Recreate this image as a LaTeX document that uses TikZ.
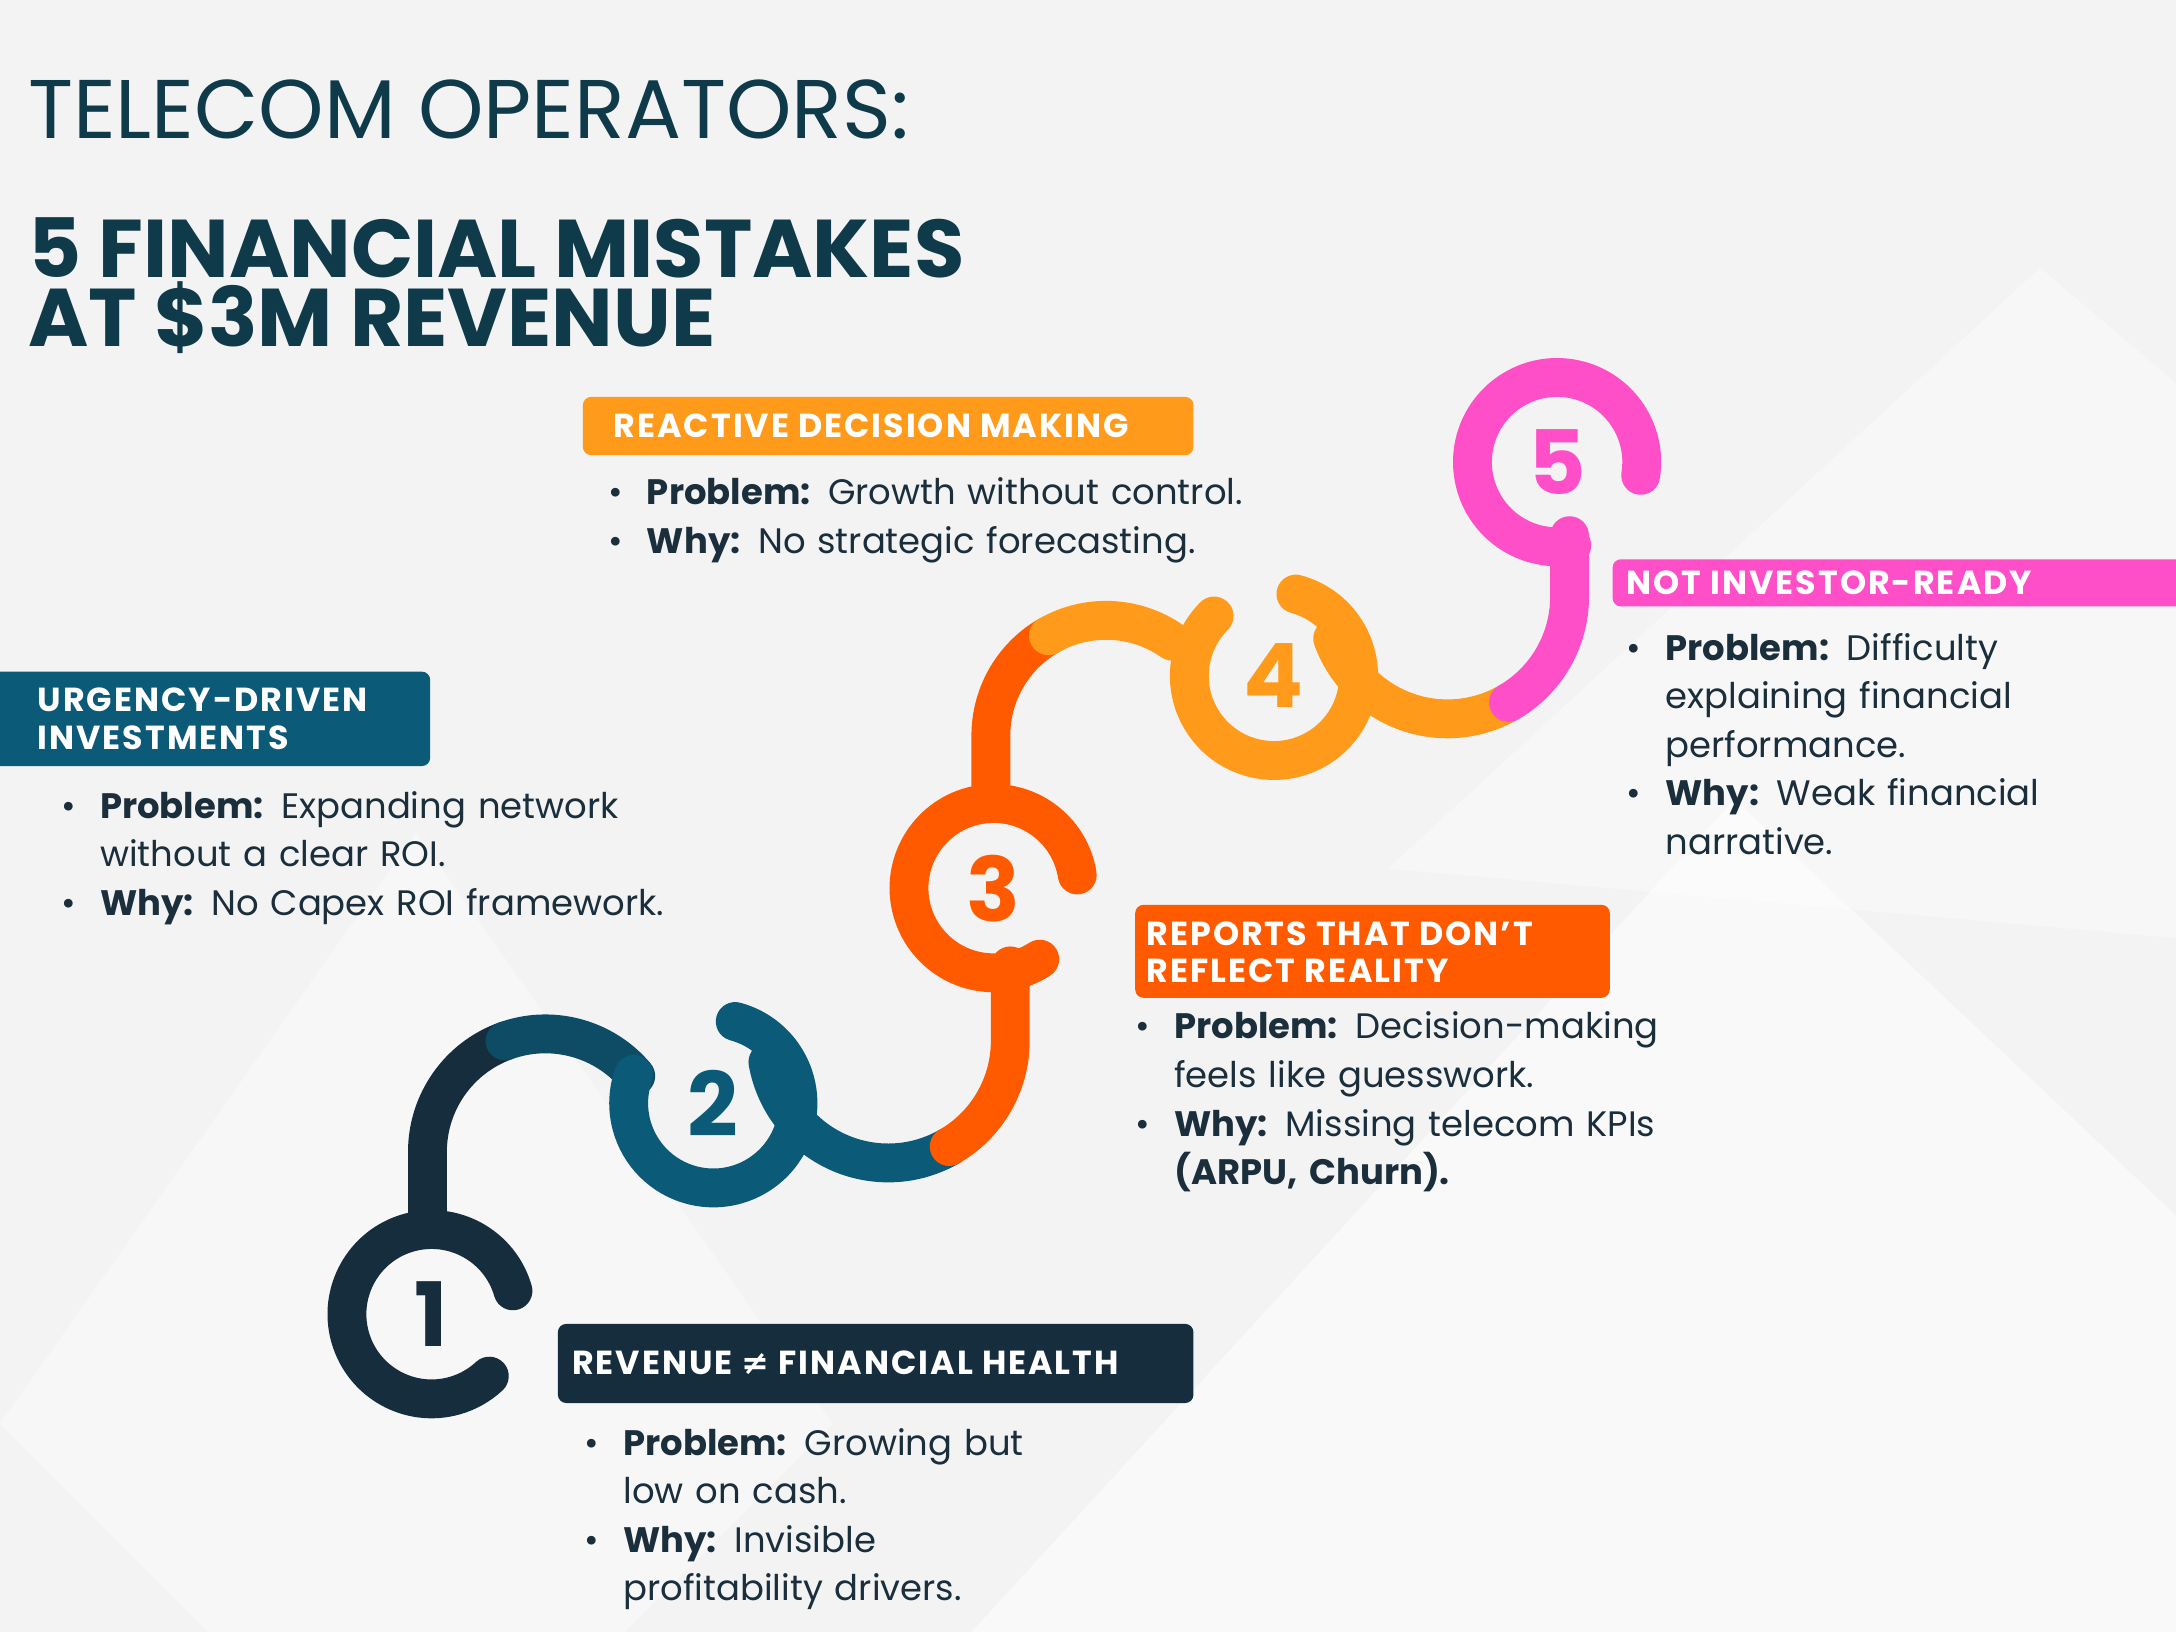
\documentclass[tikz,border=0pt]{standalone}
\usepackage{fontspec}
\setmainfont{Poppins}
\newfontfamily\symf{DejaVu Sans}
\definecolor{bg}{HTML}{F3F3F4}
\definecolor{navy}{HTML}{152D3C}
\definecolor{teal}{HTML}{0B5A78}
\definecolor{red}{HTML}{FF5A00}
\definecolor{orng}{HTML}{FF9A1A}
\definecolor{pink}{HTML}{FF4FC8}
\definecolor{txt}{HTML}{1A2E3B}
\definecolor{ttl}{HTML}{0E3A4A}
\tikzset{
  ring/.style={line width=28pt,line cap=round},
  lbl/.style={anchor=west,text=white,font=\fontsize{24}{27}\selectfont\bfseries\addfontfeatures{LetterSpace=6},align=left,inner sep=0pt},
  num/.style={font=\fontsize{64}{64}\selectfont\bfseries},
  body/.style={anchor=north west,text=txt,align=left,font=\fontsize{25.5}{35}\selectfont,inner sep=0pt,text width=560pt}
}
\newcommand{\bl}[1]{{\leavevmode\hangindent=28pt\hangafter=1\makebox[28pt][l]{\textbullet}#1\par}}
\newcommand{\nl}{\hfil\break}
\begin{document}
\begin{tikzpicture}[x=1pt,y=1pt]
\useasboundingbox (0,0) rectangle (1568,1176);
\fill[bg] (0,0) rectangle (1568,1176);
\fill[white,opacity=0.5] (700,0) -- (1250,600) -- (1568,300) -- (1568,0) -- cycle;
\fill[white,opacity=0.4] (0,150) -- (300,576) -- (600,150) -- (450,0) -- (150,0) -- cycle;
\fill[white,opacity=0.35] (1000,550) -- (1470,983) -- (1568,900) -- (1568,500) -- cycle;
% titles
\node[anchor=base west,inner sep=0pt,text=ttl,font=\fontsize{60}{60}\selectfont] (t1) at (20,1076) {TELECOM OPERATORS:};
\node[anchor=base west,inner sep=0pt,text=ttl,font=\fontsize{59}{50}\selectfont\bfseries,align=left] (t2) at (20,926) {5 FINANCIAL MISTAKES\\AT \$3M REVENUE};
% snake
\draw[ring,navy] (311,229) ++(16:61) arc(16:313:61);
\draw[ring,navy] (308,290) -- (308,346) arc(180:110:85);
\draw[ring,teal!70!navy] (393,346) ++(110:85) arc(110:40:85);
\draw[ring,teal] (514,381) ++(75:61) arc(75:-200:61);
\draw[ring,teal] (640,426) ++(190:88) arc(190:300:88);
\draw[ring,red] (640,426) ++(300:88) arc(300:360:88) -- (728,480);
\draw[ring,red] (716,536) ++(9:61) arc(9:303:61);
\draw[ring,red] (714,597) -- (714,646) arc(180:120:83);
\draw[ring,orng] (797,646) ++(120:83) arc(120:55:83);
\draw[ring,orng] (918,689) ++(75:61) arc(75:-225:61);
\draw[ring,orng] (1043,746) ++(200:88) arc(200:300:88);
\draw[ring,pink] (1043,746) ++(300:88) arc(300:360:88) -- (1131,790);
\draw[ring,pink] (1122,843) ++(-9:61) arc(-9:280:61);
\node[num,text=navy] (n1) at (311,229) {1};
\node[num,text=teal] (n2) at (514,381) {2};
\node[num,text=red] (n3) at (716,536) {3};
\node[num,text=orng] (n4) at (918,689) {4};
\node[num,text=pink] (n5) at (1122,843) {5};
% labels
\fill[orng,rounded corners=6pt] (420,848) rectangle (860,890);
\node[lbl] (l4) at (442,869) {REACTIVE DECISION MAKING};
\node[body] (b4) at (438,832) {\bl{\textbf{Problem:} Growth without control.}\bl{\textbf{Why:} No strategic forecasting.}};
\fill[teal,rounded corners=6pt] (-10,624) rectangle (310,692);
\node[lbl] (l2) at (27,658) {URGENCY-DRIVEN\\INVESTMENTS};
\node[body] (b2) at (44,606) {\bl{\textbf{Problem:} Expanding network\nl without a clear ROI.}\bl{\textbf{Why:} No Capex ROI framework.}};
\fill[pink,rounded corners=6pt] (1162,739) rectangle (1580,773);
\node[lbl] (l5) at (1172,756) {NOT INVESTOR-READY};
\node[body] (b5) at (1172,720) {\bl{\textbf{Problem:} Difficulty\nl explaining financial\nl performance.}\bl{\textbf{Why:} Weak financial\nl narrative.}};
\fill[red,rounded corners=6pt] (818,457) rectangle (1160,524);
\node[lbl] (l3) at (826,490) {REPORTS THAT DON'T\\REFLECT REALITY};
\node[body] (b3) at (818,447) {\bl{\textbf{Problem:} Decision-making\nl feels like guesswork.}\bl{\textbf{Why:} Missing telecom KPIs\nl \textbf{(ARPU, Churn).}}};
\fill[navy,rounded corners=6pt] (402,165) rectangle (860,222);
\node[lbl] (l1) at (412,194) {REVENUE {\symf\bfseries ≠} FINANCIAL HEALTH};
\node[body] (b1) at (421,147) {\bl{\textbf{Problem:} Growing but\nl low on cash.}\bl{\textbf{Why:} Invisible\nl profitability drivers.}};
\end{tikzpicture}
\end{document}
